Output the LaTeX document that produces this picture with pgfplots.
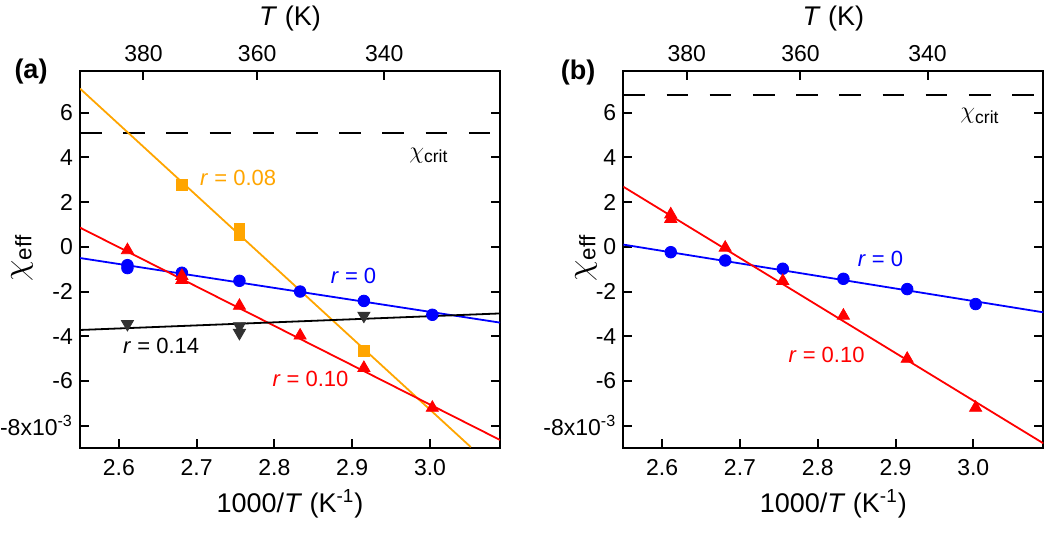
\documentclass[border=0pt]{standalone}
\usepackage{pgfplots}
\pgfplotsset{compat=1.18}
\usepackage{fontspec}
\setmainfont{Liberation Sans}
\definecolor{ora}{RGB}{255,165,0}
\definecolor{dgray}{RGB}{50,50,50}

\tikzset{ann/.style={anchor=west, font=\fontsize{11}{13}\selectfont, inner sep=0pt}}
\pgfplotsset{
  chibox/.style={
    anchor=south west, scale only axis,
    width=210pt, height=188.3pt,
    xmin=2.55, xmax=3.09, ymin=-9, ymax=7.85,
    axis line style={line width=1pt},
    major tick style={line width=1pt, black},
    tick align=inside, major tick length=4.5pt,
    clip=true,
  },
  mainax/.style={chibox,
    xtick={2.6,2.7,2.8,2.9,3.0},
    xticklabels={2.6,2.7,2.8,2.9,3.0},
    ytick={-8,-6,-4,-2,0,2,4,6},
    yticklabels={{-8x10\textsuperscript{-3}},-6,-4,-2,0,2,4,6},
    xtick pos=bottom, ytick pos=both,
    tick label style={font=\fontsize{11.5}{13}\selectfont},
    xticklabel style={yshift=-2pt},
    xlabel={1000/\textit{T} (K\textsuperscript{-1})},
    xlabel style={font=\fontsize{13.5}{15}\selectfont},
  },
  topax/.style={chibox,
    axis x line*=top, axis y line=none,
    xtick={2.631579,2.777778,2.941176},
    xticklabels={380,360,340},
    tick label style={font=\fontsize{11.5}{13}\selectfont},
    xticklabel style={yshift=1.5pt},
    xlabel={\textit{T} (K)},
    xlabel style={font=\fontsize{13.5}{15}\selectfont},
  },
  fitline/.style={line width=0.9pt, no markers},
  crit/.style={black, line width=1pt, dash pattern=on 10.8pt off 10.8pt, no markers},
}

\begin{document}
\begin{tikzpicture}
\useasboundingbox (0,0) rectangle (525pt,268pt);

% ---------------- panel (a)
\begin{axis}[mainax, at={(40pt,44pt)}]
\addplot[crit] coordinates {(2.55,5.1)(3.09,5.1)};
% fits
\addplot[fitline, ora] coordinates {(2.55,7.08)(3.0525,-8.96)};
\addplot[fitline, blue] coordinates {(2.55,-0.5)(3.09,-3.39)};
\addplot[fitline, red] coordinates {(2.55,0.86)(3.09,-8.64)};
\addplot[fitline, black] coordinates {(2.55,-3.72)(3.09,-2.98)};
% data
\addplot[only marks, mark=triangle*, mark size=3.5pt, dgray, mark options={rotate=180}] coordinates {
(2.611,-3.45)(2.755,-3.55)(2.755,-3.85)(2.915,-3.08)};
\addplot[only marks, mark=*, mark size=2.9pt, blue] coordinates {
(2.611,-0.82)(2.611,-0.95)(2.681,-1.16)(2.755,-1.52)(2.833,-2.0)(2.915,-2.42)(3.003,-3.04)};
\addplot[only marks, mark=triangle*, mark size=3.5pt, red] coordinates {
(2.611,-0.15)(2.681,-1.3)(2.681,-1.48)(2.755,-2.64)(2.833,-3.97)(2.915,-5.42)(3.003,-7.2)};
\addplot[only marks, mark=square*, mark size=2.7pt, ora] coordinates {
(2.681,2.77)(2.755,0.8)(2.755,0.55)(2.915,-4.64)};
% labels
\node[ann, ora] at (axis cs:2.704,3.07) {\textit{r} = 0.08};
\node[ann, blue] at (axis cs:2.872,-1.3) {\textit{r} = 0};
\node[ann, black] at (axis cs:2.605,-4.42) {\textit{r} = 0.14};
\node[ann, red] at (axis cs:2.797,-5.9) {\textit{r} = 0.10};
\node[ann, black, font=\fontsize{12.5}{14}\selectfont] at (axis cs:2.973,4.1) {$\chi_{\mathrm{crit}}$};
\end{axis}
\begin{axis}[topax, at={(40pt,44pt)}]
\end{axis}
\node[font=\bfseries\fontsize{13.5}{15}\selectfont] at (15.5pt,232pt) {(a)};
\node[rotate=90, inner sep=0pt, font=\fontsize{16}{18}\selectfont] at (11pt,139pt) {$\chi_{\mathrm{eff}}$};

% ---------------- panel (b)
\begin{axis}[mainax, at={(311.65pt,44pt)}]
\addplot[crit] coordinates {(2.55,6.8)(3.09,6.8)};
\addplot[fitline, blue] coordinates {(2.55,0.1)(3.09,-2.93)};
\addplot[fitline, red] coordinates {(2.55,2.69)(3.09,-8.79)};
\addplot[only marks, mark=*, mark size=2.9pt, blue] coordinates {
(2.611,-0.24)(2.681,-0.61)(2.755,-0.98)(2.833,-1.43)(2.915,-1.89)(3.003,-2.56)};
\addplot[only marks, mark=triangle*, mark size=3.5pt, red] coordinates {
(2.611,1.45)(2.611,1.25)(2.681,-0.04)(2.755,-1.53)(2.833,-3.08)(2.915,-5.01)(3.003,-7.2)};
\node[ann, blue] at (axis cs:2.851,-0.53) {\textit{r} = 0};
\node[ann, red] at (axis cs:2.762,-4.83) {\textit{r} = 0.10};
\node[ann, black, font=\fontsize{12.5}{14}\selectfont] at (axis cs:2.983,5.86) {$\chi_{\mathrm{crit}}$};
\end{axis}
\begin{axis}[topax, at={(311.65pt,44pt)}]
\end{axis}
\node[font=\bfseries\fontsize{13.5}{15}\selectfont] at (289pt,231.5pt) {(b)};
\node[rotate=90, inner sep=0pt, font=\fontsize{16}{18}\selectfont] at (293pt,139pt) {$\chi_{\mathrm{eff}}$};
\end{tikzpicture}
\end{document}
